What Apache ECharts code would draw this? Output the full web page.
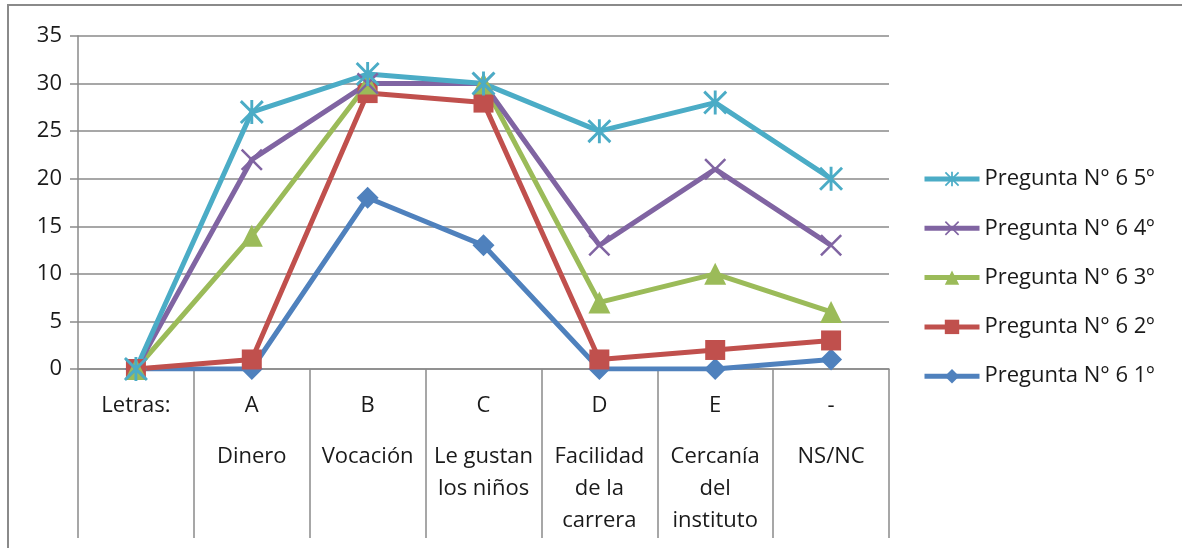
<!DOCTYPE html>
<html lang="es">
<head>
    <meta charset="UTF-8">
    <title>Pregunta 6</title>
    <script src="https://cdn.jsdelivr.net/npm/echarts@6/dist/echarts.min.js"></script>
    <style>
        html, body { margin: 0; padding: 0; background: #fff; }
        #chart1 { width: 1182px; height: 548px; }
    </style>
</head>
<body>
<div id="chart1"></div>
<script type="text/javascript">
    // categorias (dos niveles, como en Excel)
    var letras = ['Letras:', 'A', 'B', 'C', 'D', 'E', '-'];
    var motivos = ['', 'Dinero', 'Vocación', 'Le gustan\nlos niños', 'Facilidad\nde la\ncarrera', 'Cercanía\ndel\ninstituto', 'NS/NC'];

    var nombres = ['Pregunta N° 6 1º', 'Pregunta N° 6 2º', 'Pregunta N° 6 3º', 'Pregunta N° 6 4º', 'Pregunta N° 6 5º'];
    var curso1 = [0, 0, 18, 13, 0, 0, 1];
    var curso2 = [0, 1, 29, 28, 1, 2, 3];
    var curso3 = [0, 14, 30, 30, 7, 10, 6];
    var curso4 = [0, 22, 30, 30, 13, 21, 13];
    var curso5 = [0, 27, 31, 30, 25, 28, 20];

    var yTicks = [0, 5, 10, 15, 20, 25, 30, 35];

    var fuente = '"Open Sans", "Liberation Sans", sans-serif';
    // asterisco (marcador estrella de Excel)
    var asterisco = 'path://M8.8,0L11.2,0L11.2,20L8.8,20Z M0,1.7L1.7,0L20,18.3L18.3,20Z M18.3,0L20,1.7L1.7,20L0,18.3Z';
    var equis = 'path://M0,1.6L1.6,0L20,18.4L18.4,20Z M18.4,0L20,1.6L1.6,20L0,18.4Z';

    var colores = ['#4F81BD', '#C0504D', '#9BBB59', '#8064A2', '#4BACC6'];
    var simbolos = ['diamond', 'rect', 'triangle', equis, asterisco];
    var tamanos = [22, 20, 22, 22, 24];
    var datos = [curso1, curso2, curso3, curso4, curso5];

    var series = [];
    for (var i = 0; i < datos.length; i++) {
        series.push({
            name: nombres[i],
            type: 'line',
            data: datos[i],
            symbol: simbolos[i],
            symbolSize: tamanos[i],
            showAllSymbol: true,
            lineStyle: { width: 5, color: colores[i] },
            itemStyle: { color: colores[i] },
            emphasis: { disabled: true },
            animation: false
        });
    }

    var myChart1 = echarts.init(document.getElementById('chart1'));
    myChart1.setOption({
        animation: false,
        textStyle: { fontFamily: fuente },
        graphic: [{
            type: 'rect',
            shape: { x: 8, y: 5, width: 1200, height: 600 },
            style: { fill: 'none', stroke: '#8a8a8a', lineWidth: 2 },
            silent: true
        }],
        grid: { left: 78, right: 293, top: 36, bottom: 179 },
        legend: {
            orient: 'vertical',
            left: 922,
            top: 168,
            padding: 0,
            itemWidth: 55,
            itemHeight: 18,
            itemGap: 27.3,
            data: nombres.slice().reverse(),
            lineStyle: { width: 5 },
            textStyle: { fontSize: 22, lineHeight: 22, color: '#1a1a1a', fontFamily: fuente }
        },
        xAxis: [{
            type: 'category',
            data: letras,
            boundaryGap: true,
            axisLine: { lineStyle: { color: '#8a8a8a', width: 1.5 } },
            axisTick: { show: true, length: 169, lineStyle: { color: '#8a8a8a', width: 1.5 } },
            axisLabel: { fontSize: 22, color: '#1a1a1a', margin: 26, fontFamily: fuente, interval: 0 }
        }, {
            type: 'category',
            data: motivos,
            position: 'bottom',
            boundaryGap: true,
            axisLine: { show: false },
            axisTick: { show: false },
            axisLabel: { fontSize: 22, color: '#1a1a1a', margin: 72, lineHeight: 32, fontFamily: fuente, interval: 0 }
        }],
        yAxis: {
            type: 'value',
            min: yTicks[0],
            max: yTicks[yTicks.length - 1],
            interval: 5,
            axisLine: { show: true, lineStyle: { color: '#8a8a8a', width: 1.5 } },
            axisTick: { show: true, length: 8, lineStyle: { color: '#8a8a8a', width: 1.5 } },
            axisLabel: { fontSize: 22, color: '#1a1a1a', margin: 16, fontFamily: fuente },
            splitLine: { lineStyle: { color: '#8a8a8a', width: 1.5 } }
        },
        series: series
    });
</script>
</body>
</html>
